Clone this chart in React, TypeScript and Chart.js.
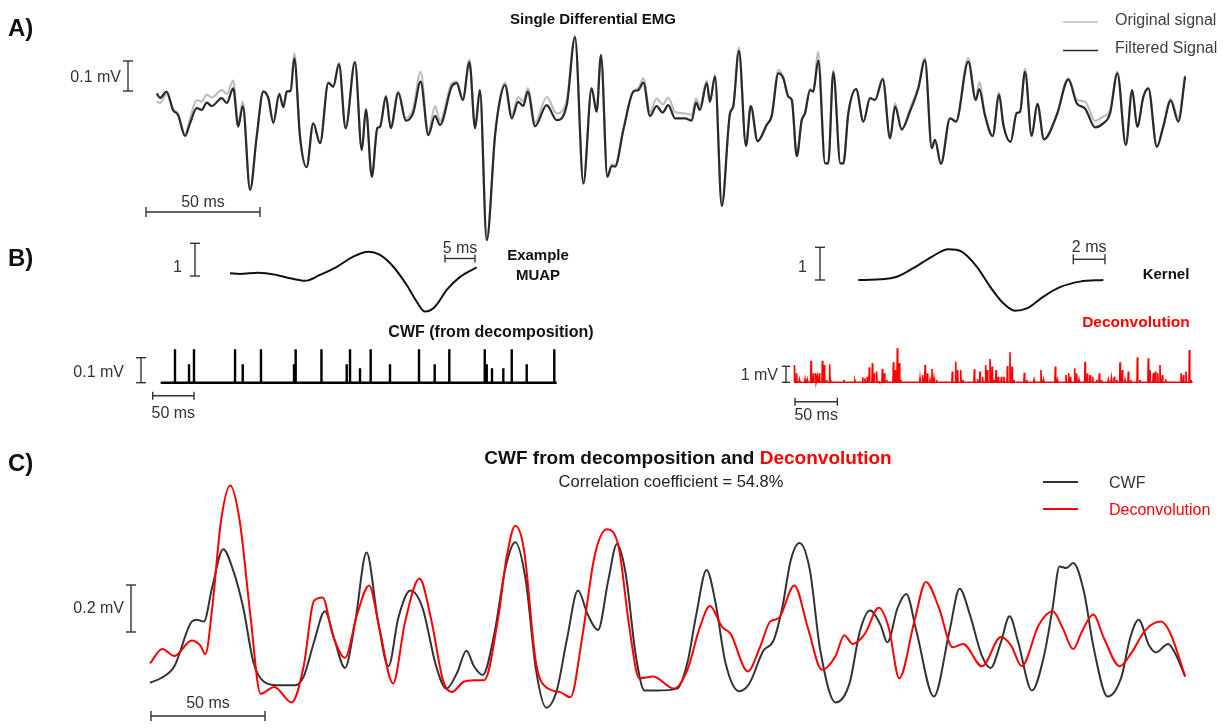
import React, { useEffect, useRef } from "react";
import { Chart, registerables } from "chart.js";

Chart.register(...registerables);

// ---------- Panel A: single differential EMG (time in ms, amplitude in mV) ----------
const emgTime = [0.8,2.2,5.1,7.9,10.1,13.2,15.4,18.3,20.5,22.7,24.9,29.3,31.5,34.3,36.5,38.5,41.7,44.6,47.5,49.7,51.9,54.5,56.3,57.8,59.5,61.1,63.6,66.5,69.4,72.4,76.0,78.2,80.7,83.6,87.7,90.7,92.5,95.1,97.5,98.7,101.3,103.4,106.7,110.0,113.3,116.5,119.9,122.8,125.0,130.1,132.3,135.0,137.9,140.4,142.5,145.5,149.1,151.3,153.5,156.5,159.3,161.5,163.5,166.7,171.8,176.2,180.6,184.2,187.9,191.5,193.7,195.6,198.4,200.3,201.8,205.4,209.8,212.0,214.2,217.1,220.0,222.7,225.1,228.1,232.5,235.4,237.3,239.0,242.0,243.4,245.6,248.6,252.2,253.6,256.1,259.2,261.3,264.3,268.3,270.5,273.4,275.6,277.8,279.3,281.5,283.6,285.1,287.3,288.7,290.9,293.9,295.3,297.5,300.6,301.9,304.1,307.5,310.7,313.6,315.8,319.2,322.4,324.6,327.5,331.1,334.8,337.7,340.7,342.1,344.7,348.7,351.3,356.7,360.0,361.5,364.0,367.4,370.2,372.1,375.3,377.9,379.4,381.6,384.5,387.0,389.9,395.5,400.6,404.3,407.9,412.3,415.9,418.9,422.1,425.8,428.6,430.8,433.5,435.7,439.4,442.2,445.5,448.8,451.8];
const emgFiltered = [0.022,0.007,0.028,-0.033,-0.05,-0.12,-0.077,-0.027,-0.033,-0.009,-0.02,0.006,-0.01,0.039,-0.089,-0.02,-0.30,-0.122,0.028,0.006,-0.076,0.02,-0.024,0.028,0.031,0.139,-0.122,-0.224,-0.078,-0.144,0.056,0.044,0.12,-0.094,0.126,-0.167,-0.031,-0.256,-0.094,-0.089,0.011,-0.094,0.024,-0.069,-0.042,0.061,-0.117,-0.053,-0.083,0.044,0.056,0,0.126,-0.094,0.033,-0.467,-0.122,0,0.05,-0.061,-0.006,-0.02,0.028,-0.087,-0.017,-0.067,-0.017,0.209,-0.278,0.039,-0.039,0.15,-0.256,-0.22,-0.222,-0.1,0.028,0.033,0.058,-0.053,-0.02,-0.042,-0.017,-0.061,-0.061,-0.069,-0.009,-0.033,0.056,-0.006,0.078,-0.353,-0.044,-0.022,0.164,-0.153,-0.02,-0.137,-0.083,-0.053,0.089,0.072,0.011,0,-0.187,-0.069,-0.044,0.033,0.028,0.131,-0.211,-0.211,0.093,-0.211,-0.211,-0.044,0.036,-0.072,0.006,0,0.069,-0.128,-0.022,-0.098,-0.039,0.039,0.133,-0.161,-0.133,-0.213,-0.061,-0.072,0.128,0,0.036,-0.05,-0.12,0.017,-0.083,-0.139,-0.044,-0.039,0.094,-0.12,-0.013,-0.131,-0.05,0.069,-0.011,-0.028,-0.091,-0.078,-0.044,0.089,-0.15,0.033,-0.089,0.011,0.039,-0.156,-0.089,-0.002,-0.072,0.078];
const emgOriginal = [-0.005,-0.01,0.02,-0.03,-0.045,-0.115,-0.06,0.0,-0.005,0.018,0.008,0.033,0.02,0.065,-0.08,-0.005,-0.30,-0.122,0.03,0.006,-0.076,0.022,-0.024,0.03,0.033,0.156,-0.122,-0.224,-0.078,-0.144,0.06,0.05,0.124,-0.094,0.128,-0.167,-0.031,-0.256,-0.094,-0.089,0.015,-0.09,0.03,-0.06,-0.025,0.094,-0.11,-0.02,-0.07,0.055,0.062,0.005,0.135,-0.094,0.033,-0.467,-0.122,0.005,0.058,-0.05,0.01,-0.005,0.04,-0.075,0.01,-0.045,0.0,0.215,-0.278,0.039,-0.039,0.15,-0.256,-0.215,-0.215,-0.1,0.03,0.04,0.072,-0.04,0.005,-0.015,0.008,-0.04,-0.045,-0.05,0.005,-0.02,0.065,-0.006,0.085,-0.353,-0.044,-0.022,0.175,-0.153,-0.02,-0.137,-0.083,-0.05,0.1,0.075,0.011,0.0,-0.187,-0.069,-0.044,0.036,0.03,0.16,-0.211,-0.211,0.1,-0.211,-0.211,-0.044,0.036,-0.072,0.006,0.0,0.075,-0.128,-0.01,-0.098,-0.03,0.045,0.14,-0.161,-0.133,-0.213,-0.061,-0.072,0.14,0.0,0.06,-0.05,-0.12,0.025,-0.083,-0.139,-0.044,-0.039,0.105,-0.12,-0.013,-0.131,-0.05,0.072,0.0,-0.005,-0.07,-0.055,-0.035,0.095,-0.15,0.033,-0.089,0.011,0.039,-0.156,-0.089,0.005,-0.06,0.082];

// ---------- Panel B: example MUAP (ms, normalised) and kernel (ms, normalised) ----------
const muapTime = [0,1.66,4.72,7.78,10.0,12.5,15.0,17.8,20.55,23.05,25.0,27.22,29.45,31.12,32.5,34.17,36.12,38.34,41.11];
const muapAmp = [0,-0.02,0.02,-0.05,-0.15,-0.23,-0.05,0.2,0.51,0.66,0.56,0.2,-0.36,-0.87,-1.17,-1.02,-0.51,-0.11,0.18];
const kernelTime = [0,1.37,2.43,3.47,4.64,5.69,6.53,7.48,8.32,9.16,9.9,10.64,11.69,12.74,14.0,15.48];
const kernelAmp = [0,0.02,0.1,0.36,0.71,0.94,0.87,0.41,-0.2,-0.71,-0.94,-0.87,-0.51,-0.22,-0.05,0];

// CWF firing instants (ms) and spike heights (mV)
const cwfSpikeTimes = [17.3,34.3,40.3,90.0,99.3,121.4,161.4,163.4,194.6,225.2,229.2,241.3,254.2,277.6,312.7,331.7,349.4,392.3,394.7,401.1,414.8,425.0,443.1,476.5];
const cwfSpikeHeights = [0.134,0.074,0.134,0.134,0.074,0.134,0.074,0.134,0.134,0.074,0.134,0.058,0.134,0.074,0.134,0.074,0.134,0.134,0.074,0.058,0.058,0.134,0.074,0.134];
const cwfTrainEnd = 479.4;

// Deconvolution output (ms, mV)
const decSpikeTimes = [0.8,3.1,6.3,13.0,15.7,20.1,22.8,25.6,27.5,29.9,33.5,35.8,38.6,42.1,43.3,59.0,72.0,81.1,83.8,86.6,88.9,92.5,94.5,97.6,100.4,104.3,106.7,109.4,117.3,119.6,122.0,124.4,126.3,148.8,151.9,154.7,157.4,160.6,162.9,165.3,168.4,186.9,190.9,193.2,196.8,199.5,212.9,216.8,219.6,222.7,226.3,228.3,231.4,233.8,236.1,238.5,241.2,244.8,247.9,251.9,255.0,257.4,259.7,271.9,274.7,283.4,291.6,294.4,308.5,310.9,321.1,324.3,326.6,331.4,333.7,336.5,343.6,346.3,349.5,352.6,357.3,360.5,363.2,371.1,374.7,378.2,381.0,384.9,387.6,390.8,394.7,397.5,405.4,408.5,418.3,420.3,424.2,426.6,429.4,432.1,434.9,438.8,456.9,459.7,462.8,466.8,468.7];
const decSpikeHeights = [1.08,0.56,0.15,0.19,0.15,1.35,0.56,0.56,0.35,0.56,1.35,1.08,0.15,1.13,0.15,0.15,0.1,0.31,0.25,0.35,0.94,1.19,0.56,0.67,0.04,0.83,0.56,0.15,1.25,0.77,2.13,1.19,0.15,0.25,0.46,1.08,0.56,0.15,0.83,0.25,0.15,0.67,1.29,0.77,0.77,0.15,0.81,0.19,0.67,0.35,1.08,0.77,1.46,0.98,0.15,0.77,0.35,0.35,0.35,1.02,1.88,0.98,0.15,0.6,0.15,0.15,0.77,0.15,0.98,0.15,0.46,0.56,0.35,0.88,0.56,0.15,1.29,0.56,0.46,0.35,0.15,0.56,0.15,0.15,0.25,0.35,0.15,1.25,0.77,0.15,0.67,0.15,1.56,0.15,1.5,0.77,0.56,0.67,0.56,1.08,0.46,0.19,0.56,0.46,0.67,2.02,0.15];
const decTrainEnd = 470.7;

// ---------- Panel C: smoothed CWF vs smoothed deconvolution (ms, mV) ----------
const cwfSmoothTime = [0,4.7,10.7,18.3,20.5,23.6,27.3,32.1,36.4,40.9,45.4,50.0,56.0,63.6,67.4,71.9,76.7,81.0,85.5,90.0,95.0,99.8,104.6,108.9,114.2,119.5,125.5,130.0,134.6,138.8,142.1,145.9,151.2,155.7,160.2,164.8,169.3,173.8,178.4,182.9,187.7,192.0,196.5,201.0,204.8,208.6,213.1,216.9,222.1,231.2,235.7,239.6,244.1,247.9,252.4,258.4,262.9,269.0,273.5,277.3,281.1,284.9,289.4,293.9,300.7,306.8,311.3,315.8,320.4,323.4,327.9,331.7,336.2,343.8,350.6,355.1,359.6,364.9,368.7,373.2,377.0,380.8,386.8,392.1,395.9,398.9,401.9,404.9,409.5,414.0,420.0,426.1,429.8,433.6,438.2,441.2,446.5,450.2,454.0];
const cwfSmoothVal = [0.031,0.05,0.101,0.291,0.299,0.291,0.438,0.599,0.511,0.35,0.116,0.035,0.02,0.02,0.057,0.203,0.335,0.211,0.094,0.291,0.585,0.306,0.101,0.306,0.423,0.35,0.101,0.006,0.071,0.167,0.101,0.064,0.248,0.511,0.629,0.467,0.086,-0.075,-0.002,0.218,0.423,0.321,0.255,0.467,0.621,0.497,0.145,-0.002,-0.002,0.006,0.116,0.321,0.511,0.379,0.116,-0.005,0.028,0.167,0.211,0.35,0.555,0.626,0.511,0.174,-0.053,0.028,0.248,0.338,0.277,0.203,0.35,0.409,0.248,-0.028,0.248,0.431,0.321,0.145,0.094,0.203,0.314,0.203,-0.002,0.145,0.35,0.526,0.519,0.54,0.423,0.174,-0.028,0.057,0.218,0.299,0.189,0.16,0.196,0.145,0.057];
const decSmoothTime = [0,5.4,10.7,18.3,22.1,24.3,27.3,31.1,35.2,39.4,44.0,48.5,54.5,62.1,67.4,71.9,75.7,80.2,85.5,90.8,96.1,100.6,106.6,111.9,118.2,123.2,128.5,132.3,137.6,142.1,146.6,152.7,156.5,160.2,164.0,169.3,174.6,179.9,184.4,189.7,195.0,200.3,205.6,210.1,214.6,220.7,229.7,235.7,241.0,245.6,250.9,254.6,262.2,267.5,272.0,275.8,282.6,288.6,294.7,300.7,304.5,308.2,313.6,319.6,324.1,328.6,335.4,340.3,346.0,352.0,356.6,364.9,373.2,377.7,382.3,389.8,395.9,400.4,404.9,408.7,413.7,418.5,425.3,430.6,436.6,443.4,447.2,454.0];
const decSmoothVal = [0.113,0.174,0.145,0.211,0.189,0.152,0.35,0.716,0.87,0.716,0.321,-0.016,0.013,-0.053,0.101,0.379,0.394,0.233,0.137,0.321,0.445,0.262,0.028,0.291,0.474,0.306,0.042,-0.009,0.035,0.042,0.042,0.306,0.57,0.699,0.599,0.116,0.006,-0.009,-0.031,0.233,0.57,0.684,0.606,0.277,0.05,0.057,0.006,0.086,0.262,0.357,0.269,0.24,0.079,0.182,0.291,0.306,0.445,0.262,0.086,0.145,0.233,0.196,0.24,0.35,0.262,0.05,0.299,0.46,0.35,0.182,0.196,0.101,0.226,0.189,0.101,0.277,0.335,0.262,0.174,0.248,0.321,0.218,0.101,0.16,0.255,0.291,0.248,0.06];

// ---------- layout ----------
type Box = { left: number; top: number; width: number; height: number; x0: number; pxX: number; y0: number; pxY: number };
const BOX_A: Box = { left: 140, top: 25, width: 1060, height: 228, x0: 155, pxX: 2.28, y0: 100, pxY: 300 };
const BOX_MUAP: Box = { left: 222, top: 236, width: 265, height: 86, x0: 230, pxX: 6, y0: 273.3, pxY: 32.7 };
const BOX_KERNEL: Box = { left: 850, top: 236, width: 262, height: 86, x0: 858.3, pxX: 15.83, y0: 280, pxY: 32.7 };
const BOX_CWF: Box = { left: 155, top: 340, width: 410, height: 50, x0: 160.7, pxX: 0.826, y0: 382.7, pxY: 250 };
const BOX_DEC: Box = { left: 785, top: 340, width: 415, height: 50, x0: 794, pxX: 0.847, y0: 382.3, pxY: 16 };
const BOX_C: Box = { left: 140, top: 470, width: 1060, height: 245, x0: 150, pxX: 2.28, y0: 690, pxY: 235 };

const FONT = "'Liberation Sans', Arial, Helvetica, sans-serif";
const RED = "#ff0000";

const zipXY = (xs: number[], ys: number[]) => xs.map((x, i) => ({ x, y: ys[i] }));
const spikeTrain = (times: number[], heights: number[], half: number, end: number) => {
  const pts: { x: number; y: number }[] = [{ x: 0, y: 0 }];
  times.forEach((t, i) => {
    pts.push({ x: t - half, y: 0 }, { x: t, y: heights[i] }, { x: t + half, y: 0 });
  });
  pts.push({ x: end, y: 0 });
  return pts;
};

function TraceChart({ box, datasets }: { box: Box; datasets: () => any[] }) {
  const ref = useRef<HTMLCanvasElement | null>(null);
  useEffect(() => {
    if (!ref.current) return;
    const b = box;
    const chart = new Chart(ref.current, {
      type: "line",
      data: { datasets: datasets() },
      options: {
        animation: false,
        responsive: false,
        maintainAspectRatio: false,
        events: [],
        layout: { padding: 0 },
        plugins: { legend: { display: false }, tooltip: { enabled: false }, title: { display: false } },
        elements: { point: { radius: 0 } },
        scales: {
          x: { type: "linear", display: false, min: (b.left - b.x0) / b.pxX, max: (b.left + b.width - b.x0) / b.pxX },
          y: { type: "linear", display: false, min: (b.y0 - (b.top + b.height)) / b.pxY, max: (b.y0 - b.top) / b.pxY },
        },
      },
    } as any);
    return () => chart.destroy();
  }, []);
  return (
    <canvas
      ref={ref}
      width={box.width}
      height={box.height}
      style={{ position: "absolute", left: box.left, top: box.top, width: box.width, height: box.height }}
    />
  );
}

const HBar = ({ x, y, len, cap }: { x: number; y: number; len: number; cap: number }) => (
  <g stroke="#333" strokeWidth={1.4}>
    <line x1={x} y1={y} x2={x + len} y2={y} />
    <line x1={x} y1={y - cap} x2={x} y2={y + cap} />
    <line x1={x + len} y1={y - cap} x2={x + len} y2={y + cap} />
  </g>
);
const VBar = ({ x, y, len, cap }: { x: number; y: number; len: number; cap: number }) => (
  <g stroke="#333" strokeWidth={1.4}>
    <line x1={x} y1={y} x2={x} y2={y + len} />
    <line x1={x - cap} y1={y} x2={x + cap} y2={y} />
    <line x1={x - cap} y1={y + len} x2={x + cap} y2={y + len} />
  </g>
);

export default function App() {
  return (
    <div style={{ position: "absolute", left: 0, top: 0, width: 1230, height: 728, background: "#fff", overflow: "hidden" }}>
      <TraceChart
        box={BOX_A}
        datasets={() => [
          { data: zipXY(emgTime, emgFiltered), borderColor: "#2a2a2a", borderWidth: 2.2, cubicInterpolationMode: "monotone" },
          { data: zipXY(emgTime, emgOriginal), borderColor: "#bdbdbd", borderWidth: 2.2, cubicInterpolationMode: "monotone" },
        ]}
      />
      <TraceChart
        box={BOX_MUAP}
        datasets={() => [{ data: zipXY(muapTime, muapAmp), borderColor: "#111", borderWidth: 2, cubicInterpolationMode: "monotone" }]}
      />
      <TraceChart
        box={BOX_KERNEL}
        datasets={() => [{ data: zipXY(kernelTime, kernelAmp), borderColor: "#111", borderWidth: 2, cubicInterpolationMode: "monotone" }]}
      />
      <TraceChart
        box={BOX_CWF}
        datasets={() => [{ data: spikeTrain(cwfSpikeTimes, cwfSpikeHeights, 0.01, cwfTrainEnd), borderColor: "#000", borderWidth: 2.4, tension: 0 }]}
      />
      <TraceChart
        box={BOX_DEC}
        datasets={() => [{ data: spikeTrain(decSpikeTimes, decSpikeHeights, 0.5, decTrainEnd), borderColor: RED, borderWidth: 1.6, tension: 0 }]}
      />
      <TraceChart
        box={BOX_C}
        datasets={() => [
          { data: zipXY(decSmoothTime, decSmoothVal), borderColor: RED, borderWidth: 2, cubicInterpolationMode: "monotone" },
          { data: zipXY(cwfSmoothTime, cwfSmoothVal), borderColor: "#333", borderWidth: 2, cubicInterpolationMode: "monotone" },
        ]}
      />

      <svg width={1230} height={728} style={{ position: "absolute", left: 0, top: 0, pointerEvents: "none" }} fontFamily={FONT}>
        {/* Panel A */}
        <text x={8} y={36} fontSize={24} fontWeight="bold" fill="#111">A)</text>
        <text x={593} y={24} fontSize={15} fontWeight="bold" textAnchor="middle" fill="#111">Single Differential EMG</text>
        <line x1={1063} y1={22} x2={1098} y2={22} stroke="#bdbdbd" strokeWidth={1.5} />
        <text x={1115} y={25} fontSize={16} fill="#404040">Original signal</text>
        <line x1={1063} y1={50.5} x2={1098} y2={50.5} stroke="#2a2a2a" strokeWidth={1.5} />
        <text x={1115} y={53} fontSize={16} fill="#404040">Filtered Signal</text>
        <text x={121} y={82} fontSize={16} textAnchor="end" fill="#333">0.1 mV</text>
        <VBar x={128} y={61} len={0.1 * BOX_A.pxY} cap={5} />
        <HBar x={146} y={212} len={50 * BOX_A.pxX} cap={5} />
        <text x={146 + 25 * BOX_A.pxX} y={207} fontSize={16} textAnchor="middle" fill="#333">50 ms</text>

        {/* Panel B */}
        <text x={8} y={266} fontSize={24} fontWeight="bold" fill="#111">B)</text>
        <text x={182} y={272} fontSize={16} textAnchor="end" fill="#333">1</text>
        <VBar x={195} y={243.3} len={BOX_MUAP.pxY} cap={5} />
        <HBar x={445} y={258.5} len={5 * BOX_MUAP.pxX} cap={4} />
        <text x={445 + 2.5 * BOX_MUAP.pxX} y={253} fontSize={16} textAnchor="middle" fill="#333">5 ms</text>
        <text x={538} y={260} fontSize={15} fontWeight="bold" textAnchor="middle" fill="#111">Example</text>
        <text x={538} y={280} fontSize={15} fontWeight="bold" textAnchor="middle" fill="#111">MUAP</text>
        <text x={491} y={337} fontSize={16} fontWeight="bold" textAnchor="middle" fill="#111">CWF (from decomposition)</text>
        <text x={124} y={377} fontSize={16} textAnchor="end" fill="#333">0.1 mV</text>
        <VBar x={141} y={BOX_CWF.y0 - 0.1 * BOX_CWF.pxY} len={0.1 * BOX_CWF.pxY} cap={5} />
        <HBar x={152.7} y={395.7} len={50 * BOX_CWF.pxX} cap={4} />
        <text x={152.7 + 25 * BOX_CWF.pxX} y={418} fontSize={16} textAnchor="middle" fill="#333">50 ms</text>

        <text x={807} y={272} fontSize={16} textAnchor="end" fill="#333">1</text>
        <VBar x={820} y={247.3} len={BOX_KERNEL.pxY} cap={5} />
        <HBar x={1073.3} y={259.3} len={2 * BOX_KERNEL.pxX} cap={5} />
        <text x={1073.3 + BOX_KERNEL.pxX} y={252} fontSize={16} textAnchor="middle" fill="#333">2 ms</text>
        <text x={1166} y={279} fontSize={15} fontWeight="bold" textAnchor="middle" fill="#111">Kernel</text>
        <text x={1136} y={327} fontSize={15.5} fontWeight="bold" textAnchor="middle" fill={RED}>Deconvolution</text>
        <text x={778} y={380} fontSize={16} textAnchor="end" fill="#333">1 mV</text>
        <VBar x={786} y={BOX_DEC.y0 - BOX_DEC.pxY} len={BOX_DEC.pxY} cap={4} />
        <HBar x={795} y={401.7} len={50 * BOX_DEC.pxX} cap={4} />
        <text x={795 + 25 * BOX_DEC.pxX} y={420} fontSize={16} textAnchor="middle" fill="#333">50 ms</text>

        {/* Panel C */}
        <text x={8} y={471} fontSize={24} fontWeight="bold" fill="#111">C)</text>
        <text x={688} y={464} fontSize={19} fontWeight="bold" textAnchor="middle" fill="#111">
          <tspan>CWF from decomposition and </tspan>
          <tspan fill={RED}>Deconvolution</tspan>
        </text>
        <text x={671} y={487} fontSize={16.5} textAnchor="middle" fill="#222">Correlation coefficient = 54.8%</text>
        <line x1={1043} y1={482} x2={1078} y2={482} stroke="#333" strokeWidth={1.8} />
        <text x={1109} y={488} fontSize={16} fill="#333">CWF</text>
        <line x1={1043} y1={509} x2={1078} y2={509} stroke={RED} strokeWidth={1.8} />
        <text x={1109} y={515} fontSize={16} fill={RED}>Deconvolution</text>
        <text x={124} y={613} fontSize={16} textAnchor="end" fill="#333">0.2 mV</text>
        <VBar x={131} y={585} len={0.2 * BOX_C.pxY} cap={5} />
        <HBar x={151} y={716} len={50 * BOX_C.pxX} cap={5} />
        <text x={151 + 25 * BOX_C.pxX} y={708} fontSize={16} textAnchor="middle" fill="#333">50 ms</text>
      </svg>
    </div>
  );
}
